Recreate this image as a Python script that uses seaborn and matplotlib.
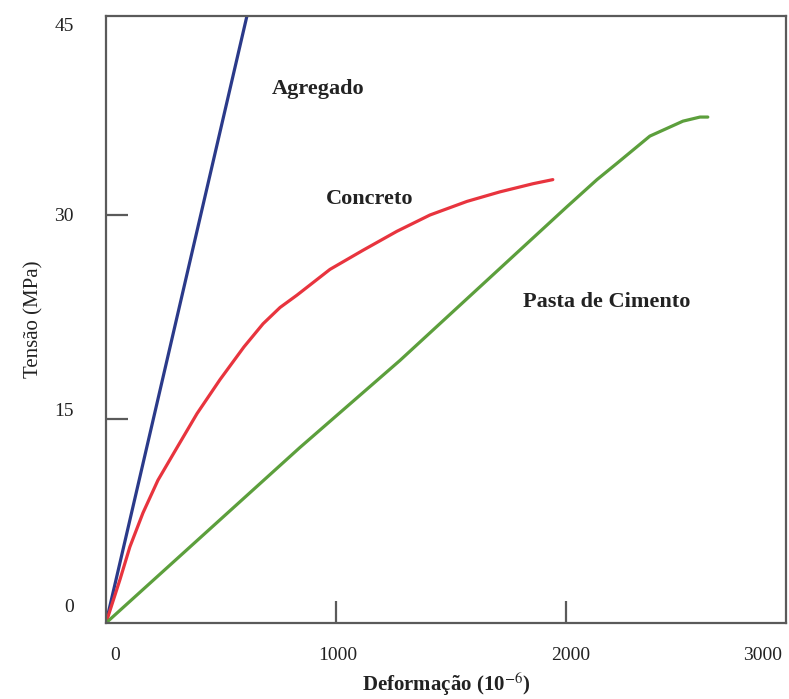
"""Stress-strain curves for aggregate, concrete and cement paste."""

import matplotlib

matplotlib.use("Agg")
import matplotlib.pyplot as plt
import pandas as pd
import seaborn as sns
from matplotlib.ticker import FixedLocator

# data (strain in 10^-6, stress in MPa)
agregado_x = [0, 640]
agregado_y = [0, 46.6]

concreto_x = [0, 61, 104, 161, 226, 309, 396, 496, 600, 683, 757, 830, 974, 1117, 1265, 1409,
              1570, 1713, 1857, 1943]
concreto_y = [0, 3.2, 5.6, 8.1, 10.5, 12.9, 15.4, 17.9, 20.3, 22.0, 23.2, 24.1, 26.0, 27.4, 28.8,
              30.0, 31.0, 31.7, 32.3, 32.6]

pasta_x = [0, 843, 1278, 2004, 2135, 2222, 2365, 2509, 2583, 2617]
pasta_y = [0, 12.9, 19.3, 30.6, 32.6, 33.8, 35.8, 36.9, 37.2, 37.2]

series_names = ["Agregado", "Concreto", "Pasta de Cimento"]
series_colors = ["#2B3A8A", "#E8343E", "#5C9F3C"]

# tick labels sit slightly off the tick marks in the original
x_label_pos = [39, 1009, 2022, 2857]
x_label_txt = ["0", "1000", "2000", "3000"]
y_label_pos = [1.3, 15.7, 30, 44.0]
y_label_txt = ["0", "15", "30", "45"]
x_marks = [1000, 2000]
y_marks = [15, 30]

frames = []
for name, xs, ys in zip(
    series_names,
    [agregado_x, concreto_x, pasta_x],
    [agregado_y, concreto_y, pasta_y],
):
    frames.append(pd.DataFrame({"strain": xs, "stress": ys, "material": name}))
df = pd.concat(frames, ignore_index=True)

sns.set_theme(style="white")
plt.rcParams["font.family"] = ["Liberation Serif", "DejaVu Serif"]
plt.rcParams["mathtext.fontset"] = "stix"

fig = plt.figure(figsize=(7.89, 6.99), dpi=100)
ax = fig.add_axes([0.1343, 0.1087, 0.8619, 0.8684])

sns.lineplot(
    data=df,
    x="strain",
    y="stress",
    hue="material",
    palette=dict(zip(series_names, series_colors)),
    sort=False,
    estimator=None,
    legend=False,
    linewidth=2.3,
    ax=ax,
)
for line in ax.lines:
    line.set_solid_joinstyle("round")
    line.set_solid_capstyle("round")

ax.set_xlim(0, 2957)
ax.set_ylim(0, 44.63)

spine_color = "#5A5A5A"
for spine in ax.spines.values():
    spine.set_color(spine_color)
    spine.set_linewidth(1.6)

ax.xaxis.set_major_locator(FixedLocator(x_label_pos))
ax.set_xticklabels(x_label_txt)
ax.yaxis.set_major_locator(FixedLocator(y_label_pos))
ax.set_yticklabels(y_label_txt)
ax.xaxis.set_minor_locator(FixedLocator(x_marks))
ax.yaxis.set_minor_locator(FixedLocator(y_marks))
ax.xaxis.remove_overlapping_locs = False
ax.yaxis.remove_overlapping_locs = False

ax.tick_params(axis="x", which="major", length=0, pad=17, labelsize=14, labelcolor="#222222")
ax.tick_params(axis="y", which="major", length=0, pad=23, labelsize=14, labelcolor="#222222")
ax.tick_params(
    which="minor", direction="in", length=16, width=1.6, color=spine_color,
    bottom=True, left=True,
)

ax.set_xlabel("Deformação (10$^{-6}$)", fontsize=15, fontweight="bold", color="#222222", labelpad=5)
ax.set_ylabel("Tensão (MPa)", fontsize=15, color="#222222", labelpad=8)

label_style = {"fontsize": 16, "fontweight": "bold", "color": "#222222", "ha": "center", "va": "center"}
ax.text(922, 39.3, "Agregado", **label_style)
ax.text(1148, 31.2, "Concreto", **label_style)
ax.text(2178, 23.6, "Pasta de Cimento", **label_style)

fig.savefig("out.png", dpi=100)
